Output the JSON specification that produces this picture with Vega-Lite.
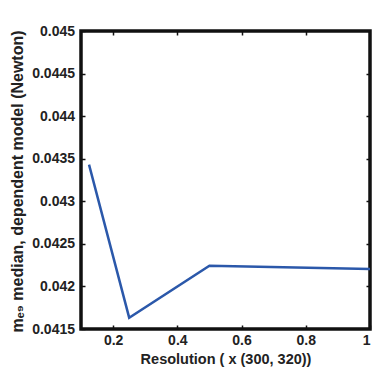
{
  "$schema": "https://vega.github.io/schema/vega-lite/v6.json",
  "width": 289,
  "height": 298,
  "autosize": {"type": "none"},
  "padding": {"left": 81, "top": 31, "right": 2, "bottom": 48},
  "background": "white",
  "config": {
    "view": {"stroke": "#111", "strokeWidth": 3.5},
    "font": "Liberation Sans",
    "axis": {
      "domain": false,
      "grid": false,
      "tickColor": "#111",
      "tickSize": -4,
      "tickWidth": 1.5,
      "labelFont": "Liberation Sans",
      "labelFontWeight": "bold",
      "labelFontSize": 14,
      "labelColor": "#222",
      "titleFont": "Liberation Sans",
      "titleFontWeight": "bold",
      "titleFontSize": 14.5,
      "titleColor": "#222"
    }
  },
  "data": {
    "values": [
      {"res": 0.125, "m": 0.04343},
      {"res": 0.25, "m": 0.041633},
      {"res": 0.5, "m": 0.042244},
      {"res": 1.0, "m": 0.042205}
    ]
  },
  "layer": [
    {
      "mark": {"type": "line", "color": "#2b58aa", "strokeWidth": 2.5, "clip": true},
      "encoding": {
        "x": {
          "field": "res", "type": "quantitative",
          "scale": {"domain": [0.1, 1], "nice": false, "zero": false},
          "axis": {"orient": "bottom", "values": [0.2, 0.4, 0.6, 0.8, 1], "format": "~g", "title": "Resolution ( x (300, 320))", "labelPadding": 8, "titlePadding": 5}
        },
        "y": {
          "field": "m", "type": "quantitative",
          "scale": {"domain": [0.0415, 0.045], "nice": false, "zero": false},
          "axis": {"orient": "left", "values": [0.0415, 0.042, 0.0425, 0.043, 0.0435, 0.044, 0.0445, 0.045], "format": ".4~f", "title": "mₑ₉ median, dependent model (Newton)", "titleFontSize": 16, "titleY": 150, "labelPadding": 10.5, "titlePadding": 6}
        }
      }
    },
    {
      "mark": {"type": "line", "opacity": 0},
      "encoding": {
        "x": {
          "field": "res", "type": "quantitative",
          "scale": {"domain": [0.1, 1], "nice": false, "zero": false},
          "axis": {"orient": "top", "values": [0.2, 0.4, 0.6, 0.8], "labels": false, "title": null}
        },
        "y": {
          "field": "m", "type": "quantitative",
          "scale": {"domain": [0.0415, 0.045], "nice": false, "zero": false},
          "axis": {"orient": "right", "values": [0.042, 0.0425, 0.043, 0.0435, 0.044, 0.0445], "labels": false, "title": null}
        }
      }
    }
  ],
  "resolve": {"axis": {"x": "independent", "y": "independent"}}
}
